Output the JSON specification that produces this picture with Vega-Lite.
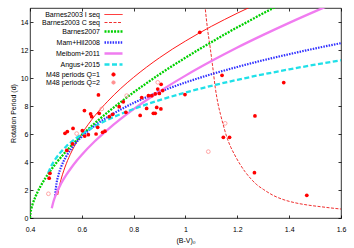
{
  "$schema": "https://vega.github.io/schema/vega-lite/v6.json",
  "width": 311,
  "height": 210,
  "autosize": {"type": "none"},
  "padding": {"left": 30, "top": 8, "right": 13, "bottom": 30},
  "background": "white",
  "config": {
    "font": "Liberation Sans",
    "view": {"stroke": "#000", "strokeWidth": 0.8},
    "axis": {"domain": false, "grid": false, "labelFont": "Liberation Sans", "labelFontSize": 7, "labelColor": "#000", "tickColor": "#000", "tickWidth": 0.8, "tickSize": -3, "labelFlush": false, "labelOverlap": false, "titleFont": "Liberation Sans", "titleFontSize": 7, "titleFontWeight": "normal", "titleColor": "#000"}
  },
  "datasets": {
    "curves": [
      {"s": "Barnes2003 I seq", "x": 0.507, "p": 1.65},
      {"s": "Barnes2003 I seq", "x": 0.51, "p": 1.97},
      {"s": "Barnes2003 I seq", "x": 0.52, "p": 2.77},
      {"s": "Barnes2003 I seq", "x": 0.53, "p": 3.37},
      {"s": "Barnes2003 I seq", "x": 0.54, "p": 3.88},
      {"s": "Barnes2003 I seq", "x": 0.56, "p": 4.72},
      {"s": "Barnes2003 I seq", "x": 0.58, "p": 5.42},
      {"s": "Barnes2003 I seq", "x": 0.6, "p": 6.02},
      {"s": "Barnes2003 I seq", "x": 0.65, "p": 7.3},
      {"s": "Barnes2003 I seq", "x": 0.7, "p": 8.34},
      {"s": "Barnes2003 I seq", "x": 0.75, "p": 9.25},
      {"s": "Barnes2003 I seq", "x": 0.8, "p": 10.05},
      {"s": "Barnes2003 I seq", "x": 0.85, "p": 10.78},
      {"s": "Barnes2003 I seq", "x": 0.9, "p": 11.45},
      {"s": "Barnes2003 I seq", "x": 0.95, "p": 12.07},
      {"s": "Barnes2003 I seq", "x": 1.0, "p": 12.64},
      {"s": "Barnes2003 I seq", "x": 1.05, "p": 13.18},
      {"s": "Barnes2003 I seq", "x": 1.1, "p": 13.69},
      {"s": "Barnes2003 I seq", "x": 1.15, "p": 14.17},
      {"s": "Barnes2003 I seq", "x": 1.2, "p": 14.63},
      {"s": "Barnes2003 I seq", "x": 1.25, "p": 15.07},

      {"s": "Barnes2003 C seq", "x": 1.068, "p": 16.5},
      {"s": "Barnes2003 C seq", "x": 1.076, "p": 15.0},
      {"s": "Barnes2003 C seq", "x": 1.085, "p": 13.5},
      {"s": "Barnes2003 C seq", "x": 1.095, "p": 12.2},
      {"s": "Barnes2003 C seq", "x": 1.105, "p": 10.8},
      {"s": "Barnes2003 C seq", "x": 1.115, "p": 9.3},
      {"s": "Barnes2003 C seq", "x": 1.125, "p": 8.2},
      {"s": "Barnes2003 C seq", "x": 1.135, "p": 7.4},
      {"s": "Barnes2003 C seq", "x": 1.145, "p": 6.7},
      {"s": "Barnes2003 C seq", "x": 1.159, "p": 5.8},
      {"s": "Barnes2003 C seq", "x": 1.175, "p": 5.05},
      {"s": "Barnes2003 C seq", "x": 1.19, "p": 4.5},
      {"s": "Barnes2003 C seq", "x": 1.21, "p": 3.85},
      {"s": "Barnes2003 C seq", "x": 1.23, "p": 3.3},
      {"s": "Barnes2003 C seq", "x": 1.25, "p": 2.85},
      {"s": "Barnes2003 C seq", "x": 1.275, "p": 2.38},
      {"s": "Barnes2003 C seq", "x": 1.3, "p": 2.05},
      {"s": "Barnes2003 C seq", "x": 1.34, "p": 1.6},
      {"s": "Barnes2003 C seq", "x": 1.38, "p": 1.3},
      {"s": "Barnes2003 C seq", "x": 1.42, "p": 1.1},
      {"s": "Barnes2003 C seq", "x": 1.47, "p": 0.93},
      {"s": "Barnes2003 C seq", "x": 1.52, "p": 0.81},
      {"s": "Barnes2003 C seq", "x": 1.56, "p": 0.72},
      {"s": "Barnes2003 C seq", "x": 1.6, "p": 0.64},

      {"s": "Barnes2007", "x": 0.4, "p": 0.0},
      {"s": "Barnes2007", "x": 0.402, "p": 0.37},
      {"s": "Barnes2007", "x": 0.405, "p": 0.65},
      {"s": "Barnes2007", "x": 0.41, "p": 0.98},
      {"s": "Barnes2007", "x": 0.42, "p": 1.48},
      {"s": "Barnes2007", "x": 0.43, "p": 1.89},
      {"s": "Barnes2007", "x": 0.44, "p": 2.25},
      {"s": "Barnes2007", "x": 0.46, "p": 2.87},
      {"s": "Barnes2007", "x": 0.48, "p": 3.41},
      {"s": "Barnes2007", "x": 0.5, "p": 3.9},
      {"s": "Barnes2007", "x": 0.55, "p": 4.98},
      {"s": "Barnes2007", "x": 0.6, "p": 5.92},
      {"s": "Barnes2007", "x": 0.65, "p": 6.77},
      {"s": "Barnes2007", "x": 0.7, "p": 7.55},
      {"s": "Barnes2007", "x": 0.75, "p": 8.28},
      {"s": "Barnes2007", "x": 0.8, "p": 8.98},
      {"s": "Barnes2007", "x": 0.85, "p": 9.63},
      {"s": "Barnes2007", "x": 0.9, "p": 10.27},
      {"s": "Barnes2007", "x": 0.95, "p": 10.87},
      {"s": "Barnes2007", "x": 1.0, "p": 11.45},
      {"s": "Barnes2007", "x": 1.05, "p": 12.02},
      {"s": "Barnes2007", "x": 1.1, "p": 12.56},
      {"s": "Barnes2007", "x": 1.15, "p": 13.1},
      {"s": "Barnes2007", "x": 1.2, "p": 13.62},
      {"s": "Barnes2007", "x": 1.25, "p": 14.12},
      {"s": "Barnes2007", "x": 1.3, "p": 14.62},
      {"s": "Barnes2007", "x": 1.35, "p": 15.1},

      {"s": "Mam+Hil2008", "x": 0.497, "p": 1.6},
      {"s": "Mam+Hil2008", "x": 0.5, "p": 2.16},
      {"s": "Mam+Hil2008", "x": 0.51, "p": 3.09},
      {"s": "Mam+Hil2008", "x": 0.52, "p": 3.65},
      {"s": "Mam+Hil2008", "x": 0.54, "p": 4.41},
      {"s": "Mam+Hil2008", "x": 0.56, "p": 4.97},
      {"s": "Mam+Hil2008", "x": 0.58, "p": 5.43},
      {"s": "Mam+Hil2008", "x": 0.6, "p": 5.81},
      {"s": "Mam+Hil2008", "x": 0.65, "p": 6.6},
      {"s": "Mam+Hil2008", "x": 0.7, "p": 7.22},
      {"s": "Mam+Hil2008", "x": 0.75, "p": 7.75},
      {"s": "Mam+Hil2008", "x": 0.8, "p": 8.22},
      {"s": "Mam+Hil2008", "x": 0.9, "p": 9.01},
      {"s": "Mam+Hil2008", "x": 1.0, "p": 9.68},
      {"s": "Mam+Hil2008", "x": 1.1, "p": 10.27},
      {"s": "Mam+Hil2008", "x": 1.2, "p": 10.79},
      {"s": "Mam+Hil2008", "x": 1.3, "p": 11.27},
      {"s": "Mam+Hil2008", "x": 1.4, "p": 11.7},
      {"s": "Mam+Hil2008", "x": 1.5, "p": 12.11},
      {"s": "Mam+Hil2008", "x": 1.6, "p": 12.49},

      {"s": "Meibom+2011", "x": 0.484, "p": 0.69},
      {"s": "Meibom+2011", "x": 0.49, "p": 1.14},
      {"s": "Meibom+2011", "x": 0.5, "p": 1.68},
      {"s": "Meibom+2011", "x": 0.52, "p": 2.46},
      {"s": "Meibom+2011", "x": 0.54, "p": 3.08},
      {"s": "Meibom+2011", "x": 0.56, "p": 3.61},
      {"s": "Meibom+2011", "x": 0.58, "p": 4.09},
      {"s": "Meibom+2011", "x": 0.6, "p": 4.52},
      {"s": "Meibom+2011", "x": 0.65, "p": 5.48},
      {"s": "Meibom+2011", "x": 0.7, "p": 6.32},
      {"s": "Meibom+2011", "x": 0.75, "p": 7.08},
      {"s": "Meibom+2011", "x": 0.8, "p": 7.78},
      {"s": "Meibom+2011", "x": 0.9, "p": 9.04},
      {"s": "Meibom+2011", "x": 1.0, "p": 10.17},
      {"s": "Meibom+2011", "x": 1.1, "p": 11.21},
      {"s": "Meibom+2011", "x": 1.2, "p": 12.18},
      {"s": "Meibom+2011", "x": 1.3, "p": 13.08},
      {"s": "Meibom+2011", "x": 1.4, "p": 13.94},
      {"s": "Meibom+2011", "x": 1.5, "p": 14.76},
      {"s": "Meibom+2011", "x": 1.55, "p": 15.16},

      {"s": "Angus+2015", "x": 0.47, "p": 3.21},
      {"s": "Angus+2015", "x": 0.48, "p": 3.64},
      {"s": "Angus+2015", "x": 0.5, "p": 4.26},
      {"s": "Angus+2015", "x": 0.52, "p": 4.73},
      {"s": "Angus+2015", "x": 0.54, "p": 5.12},
      {"s": "Angus+2015", "x": 0.56, "p": 5.44},
      {"s": "Angus+2015", "x": 0.58, "p": 5.73},
      {"s": "Angus+2015", "x": 0.6, "p": 5.99},
      {"s": "Angus+2015", "x": 0.65, "p": 6.55},
      {"s": "Angus+2015", "x": 0.7, "p": 7.02},
      {"s": "Angus+2015", "x": 0.8, "p": 7.79},
      {"s": "Angus+2015", "x": 0.9, "p": 8.42},
      {"s": "Angus+2015", "x": 1.0, "p": 8.96},
      {"s": "Angus+2015", "x": 1.1, "p": 9.44},
      {"s": "Angus+2015", "x": 1.2, "p": 9.87},
      {"s": "Angus+2015", "x": 1.3, "p": 10.26},
      {"s": "Angus+2015", "x": 1.4, "p": 10.62},
      {"s": "Angus+2015", "x": 1.5, "p": 10.95},
      {"s": "Angus+2015", "x": 1.6, "p": 11.27}
    ],
    "stars": [
      {"s": "M48 periods Q=1", "x": 0.474, "p": 2.84},
      {"s": "M48 periods Q=1", "x": 0.477, "p": 3.19},
      {"s": "M48 periods Q=1", "x": 0.542, "p": 4.83},
      {"s": "M48 periods Q=1", "x": 0.564, "p": 5.29},
      {"s": "M48 periods Q=1", "x": 0.535, "p": 6.05},
      {"s": "M48 periods Q=1", "x": 0.544, "p": 6.17},
      {"s": "M48 periods Q=1", "x": 0.566, "p": 6.4},
      {"s": "M48 periods Q=1", "x": 0.602, "p": 6.24},
      {"s": "M48 periods Q=1", "x": 0.611, "p": 5.85},
      {"s": "M48 periods Q=1", "x": 0.625, "p": 5.95},
      {"s": "M48 periods Q=1", "x": 0.655, "p": 6.0},
      {"s": "M48 periods Q=1", "x": 0.661, "p": 6.48},
      {"s": "M48 periods Q=1", "x": 0.68, "p": 6.12},
      {"s": "M48 periods Q=1", "x": 0.689, "p": 6.2},
      {"s": "M48 periods Q=1", "x": 0.61, "p": 7.67},
      {"s": "M48 periods Q=1", "x": 0.634, "p": 7.43},
      {"s": "M48 periods Q=1", "x": 0.638, "p": 7.24},
      {"s": "M48 periods Q=1", "x": 0.664, "p": 8.79},
      {"s": "M48 periods Q=1", "x": 0.667, "p": 7.48},
      {"s": "M48 periods Q=1", "x": 0.706, "p": 7.24},
      {"s": "M48 periods Q=1", "x": 0.719, "p": 7.41},
      {"s": "M48 periods Q=1", "x": 0.744, "p": 7.95},
      {"s": "M48 periods Q=1", "x": 0.76, "p": 8.3},
      {"s": "M48 periods Q=1", "x": 0.77, "p": 7.55},
      {"s": "M48 periods Q=1", "x": 0.825, "p": 7.33},
      {"s": "M48 periods Q=1", "x": 0.831, "p": 8.6},
      {"s": "M48 periods Q=1", "x": 0.85, "p": 7.83},
      {"s": "M48 periods Q=1", "x": 0.857, "p": 8.74},
      {"s": "M48 periods Q=1", "x": 0.87, "p": 8.74},
      {"s": "M48 periods Q=1", "x": 0.876, "p": 7.48},
      {"s": "M48 periods Q=1", "x": 0.883, "p": 7.48},
      {"s": "M48 periods Q=1", "x": 0.883, "p": 8.86},
      {"s": "M48 periods Q=1", "x": 0.899, "p": 8.9},
      {"s": "M48 periods Q=1", "x": 0.889, "p": 7.9},
      {"s": "M48 periods Q=1", "x": 0.905, "p": 7.79},
      {"s": "M48 periods Q=1", "x": 0.893, "p": 9.21},
      {"s": "M48 periods Q=1", "x": 0.912, "p": 9.1},
      {"s": "M48 periods Q=1", "x": 0.906, "p": 9.55},
      {"s": "M48 periods Q=1", "x": 0.998, "p": 8.82},
      {"s": "M48 periods Q=1", "x": 1.055, "p": 13.26},
      {"s": "M48 periods Q=1", "x": 1.141, "p": 10.19},
      {"s": "M48 periods Q=1", "x": 1.379, "p": 9.67},
      {"s": "M48 periods Q=1", "x": 1.268, "p": 7.29},
      {"s": "M48 periods Q=1", "x": 1.146, "p": 5.76},
      {"s": "M48 periods Q=1", "x": 1.17, "p": 5.76},
      {"s": "M48 periods Q=1", "x": 1.266, "p": 3.24},
      {"s": "M48 periods Q=1", "x": 1.468, "p": 1.62},
      {"s": "M48 periods Q=2", "x": 0.471, "p": 1.73},
      {"s": "M48 periods Q=2", "x": 0.58, "p": 6.03},
      {"s": "M48 periods Q=2", "x": 0.677, "p": 7.79},
      {"s": "M48 periods Q=2", "x": 0.773, "p": 8.74},
      {"s": "M48 periods Q=2", "x": 0.893, "p": 9.69},
      {"s": "M48 periods Q=2", "x": 1.153, "p": 6.76},
      {"s": "M48 periods Q=2", "x": 1.088, "p": 4.74}
    ]
  },
  "resolve": {"axis": {"x": "independent", "y": "independent"}},
  "layer": [
    {
      "data": {"name": "curves"},
      "transform": [{"filter": "datum.s == 'Barnes2003 I seq'"}],
      "mark": {"type": "line", "strokeWidth": 0.9, "interpolate": "monotone", "clip": true},
      "encoding": {
        "x": {"field": "x", "type": "quantitative", "scale": {"domain": [0.4, 1.6], "nice": false, "zero": false},
              "axis": {"orient": "bottom", "values": [0.4, 0.6, 0.8, 1, 1.2, 1.4, 1.6], "format": "~g", "title": "(B-V)₀", "labelPadding": 10, "titlePadding": 4}},
        "y": {"field": "p", "type": "quantitative", "scale": {"domain": [0, 15], "nice": false, "zero": false},
              "axis": {"orient": "left", "values": [0, 2, 4, 6, 8, 10, 12, 14], "title": "Rotation Period (d)", "labelPadding": 5, "titlePadding": 4}},
        "color": {"field": "s", "type": "nominal",
          "scale": {"domain": ["Barnes2003 I seq", "Barnes2003 C seq", "Barnes2007", "Mam+Hil2008", "Meibom+2011", "Angus+2015", "M48 periods Q=1", "M48 periods Q=2"],
                    "range": ["#ff0000", "#f03030", "#00d000", "#3030ff", "#f07cf0", "#20e0e8", "#ff0000", "#ff9090"]},
          "legend": {"orient": "none", "legendX": 80, "legendY": 3, "title": null, "padding": 0,
            "labelAlign": "right", "labelOffset": -17, "labelFontSize": 7, "labelFont": "Liberation Sans", "labelColor": "#000", "labelLimit": 0,
            "symbolSize": 36, "symbolType": "M-3,0H3", "rowPadding": 0,
            "encode": {"symbols": {"update": {
              "shape": {"signal": "indexof(['M48 periods Q=1','M48 periods Q=2'], datum.value) >= 0 ? 'circle' : 'M-3,0H3'"},
              "size": {"signal": "indexof(['M48 periods Q=1','M48 periods Q=2'], datum.value) >= 0 ? 12 : 36"},
              "fill": {"signal": "datum.value == 'M48 periods Q=1' ? '#ff0000' : 'transparent'"},
              "strokeDash": {"signal": "datum.value == 'Barnes2003 C seq' ? [3,1.5] : datum.value == 'Barnes2007' ? [2,1.2] : datum.value == 'Mam+Hil2008' ? [1.5,1.2] : datum.value == 'Angus+2015' ? [5,2.5] : [1,0]"},
              "strokeWidth": {"signal": "datum.value == 'Barnes2003 I seq' || datum.value == 'Barnes2003 C seq' ? 1 : indexof(['M48 periods Q=1','M48 periods Q=2'], datum.value) >= 0 ? 0.8 : 2.3"}
            }}}
          }
        }
      }
    },
    {
      "data": {"name": "curves"},
      "transform": [{"filter": "datum.s == 'Barnes2003 C seq'"}],
      "mark": {"type": "line", "strokeWidth": 1, "strokeDash": [3, 1.5], "interpolate": "monotone", "clip": true},
      "encoding": {
        "x": {"field": "x", "type": "quantitative", "axis": null},
        "y": {"field": "p", "type": "quantitative", "axis": null},
        "color": {"field": "s", "type": "nominal"}
      }
    },
    {
      "data": {"name": "curves"},
      "transform": [{"filter": "datum.s == 'Barnes2007'"}],
      "mark": {"type": "line", "strokeWidth": 2.3, "strokeDash": [2, 1.2], "interpolate": "monotone", "clip": true},
      "encoding": {
        "x": {"field": "x", "type": "quantitative", "axis": null},
        "y": {"field": "p", "type": "quantitative", "axis": null},
        "color": {"field": "s", "type": "nominal"}
      }
    },
    {
      "data": {"name": "curves"},
      "transform": [{"filter": "datum.s == 'Mam+Hil2008'"}],
      "mark": {"type": "line", "strokeWidth": 2.2, "strokeDash": [1.5, 1.2], "interpolate": "monotone", "clip": true},
      "encoding": {
        "x": {"field": "x", "type": "quantitative", "axis": null},
        "y": {"field": "p", "type": "quantitative", "axis": null},
        "color": {"field": "s", "type": "nominal"}
      }
    },
    {
      "data": {"name": "curves"},
      "transform": [{"filter": "datum.s == 'Meibom+2011'"}],
      "mark": {"type": "line", "strokeWidth": 2.3, "interpolate": "monotone", "clip": true},
      "encoding": {
        "x": {"field": "x", "type": "quantitative", "axis": null},
        "y": {"field": "p", "type": "quantitative", "axis": null},
        "color": {"field": "s", "type": "nominal"}
      }
    },
    {
      "data": {"name": "curves"},
      "transform": [{"filter": "datum.s == 'Angus+2015'"}],
      "mark": {"type": "line", "strokeWidth": 2.3, "strokeDash": [5, 2.5], "interpolate": "monotone", "clip": true},
      "encoding": {
        "x": {"field": "x", "type": "quantitative", "axis": null},
        "y": {"field": "p", "type": "quantitative", "axis": null},
        "color": {"field": "s", "type": "nominal"}
      }
    },
    {
      "data": {"name": "stars"},
      "transform": [{"filter": "datum.s == 'M48 periods Q=1'"}],
      "mark": {"type": "point", "filled": true, "shape": "circle", "size": 14, "opacity": 1},
      "encoding": {
        "x": {"field": "x", "type": "quantitative", "axis": {"orient": "top", "values": [0.4, 0.6, 0.8, 1, 1.2, 1.4, 1.6], "labels": false, "title": null}},
        "y": {"field": "p", "type": "quantitative", "axis": {"orient": "right", "values": [0, 2, 4, 6, 8, 10, 12, 14], "labels": false, "title": null}},
        "color": {"field": "s", "type": "nominal"}
      }
    },
    {
      "data": {"name": "stars"},
      "transform": [{"filter": "datum.s == 'M48 periods Q=2'"}],
      "mark": {"type": "point", "filled": false, "shape": "circle", "size": 14, "strokeWidth": 0.8, "opacity": 1},
      "encoding": {
        "x": {"field": "x", "type": "quantitative", "axis": null},
        "y": {"field": "p", "type": "quantitative", "axis": null},
        "color": {"field": "s", "type": "nominal"}
      }
    }
  ]
}
